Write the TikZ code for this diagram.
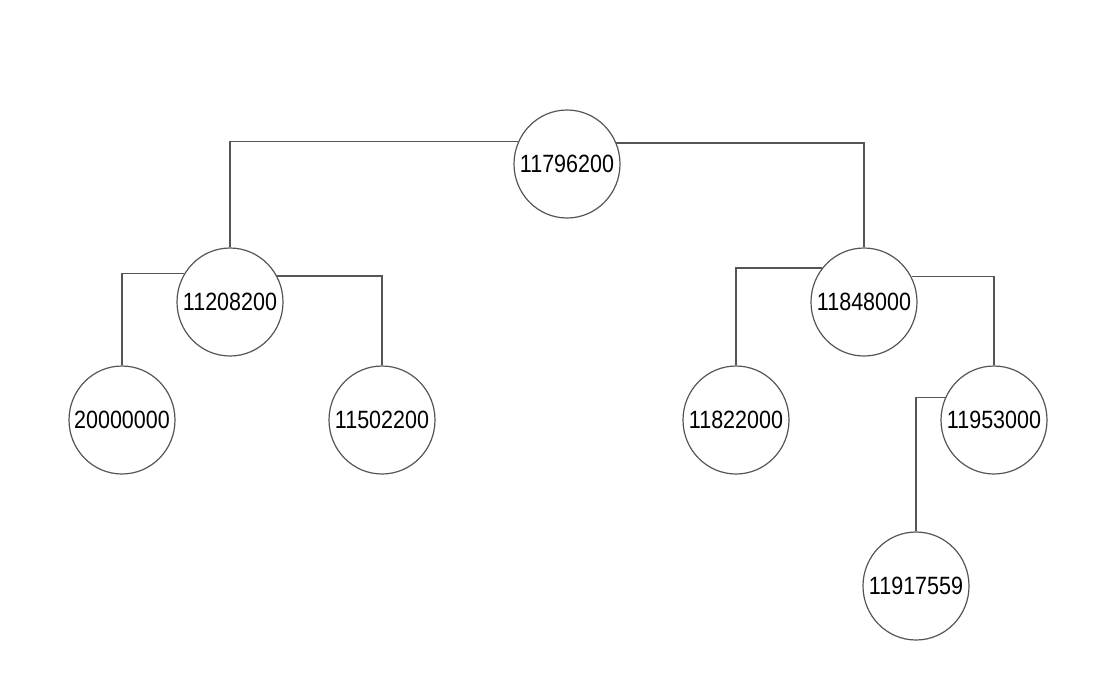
\documentclass[tikz,border=0pt]{standalone}
\usepackage{fontspec}
\usepackage{graphicx}
\setmainfont{Liberation Sans}
\usetikzlibrary{shapes.geometric}
\definecolor{edge}{RGB}{85,85,85}
\newcommand{\numtxt}[1]{\scalebox{0.86}[1]{#1}}
\begin{document}
\begin{tikzpicture}[x=1pt,y=-1pt,
  tnode/.style={ellipse,draw=edge,line width=1.2pt,minimum width=106pt,minimum height=108pt,inner xsep=-14pt,inner ysep=0pt,font=\fontsize{25}{30}\selectfont},
  conn/.style={draw=edge,line width=1.4pt}]
\useasboundingbox (0,0) rectangle (1116,683);
\fill[white] (0,0) rectangle (1116,683);
\node[tnode] (root) at (567,164) {\numtxt{11796200}};
\node[tnode] (l) at (230,302) {\numtxt{11208200}};
\node[tnode] (r) at (864,302) {\numtxt{11848000}};
\node[tnode] (ll) at (122,420) {\numtxt{20000000}};
\node[tnode] (lr) at (382,420) {\numtxt{11502200}};
\node[tnode] (rl) at (736,420) {\numtxt{11822000}};
\node[tnode] (rr) at (994,420) {\numtxt{11953000}};
\node[tnode] (rrl) at (916,586) {\numtxt{11917559}};
\draw[conn] (root.155) -| (l.north);
\draw[conn] (root.23) -| (r.north);
\draw[conn] (l.148) -| (ll.north);
\draw[conn] (l.29) -| (lr.north);
\draw[conn] (r.141) -| (rl.north);
\draw[conn] (r.28) -| (rr.north);
\draw[conn] (rr.155) -| (rrl.north);
\end{tikzpicture}
\end{document}
